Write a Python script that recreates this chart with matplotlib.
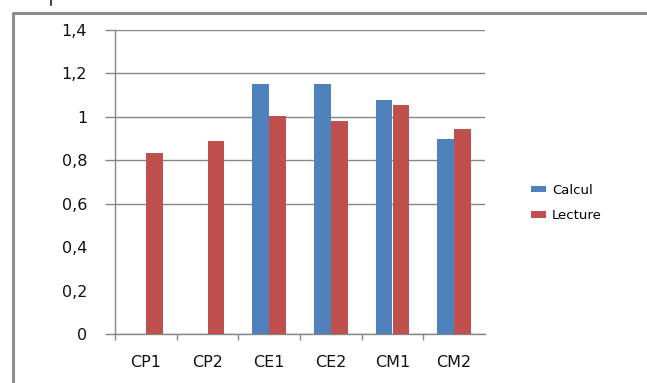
import numpy as np
import matplotlib
matplotlib.use('Agg')
import matplotlib.pyplot as plt
from matplotlib.lines import Line2D

categories = ['CP1', 'CP2', 'CE1', 'CE2', 'CM1', 'CM2']
calcul = [0, 0, 1.15, 1.15, 1.076, 0.90]
lecture = [0.835, 0.89, 1.002, 0.979, 1.053, 0.942]
y_ticks = [0, 0.2, 0.4, 0.6, 0.8, 1.0, 1.2, 1.4]
y_labels = ['0', '0,2', '0,4', '0,6', '0,8', '1', '1,2', '1,4']
grid_vals = [0, 0.6, 0.8, 1.0, 1.2, 1.4]

blue = '#4F81BD'
red = '#C0504D'
grey = '#868686'

fig = plt.figure(figsize=(6.47, 3.83), dpi=100)
ax = fig.add_axes([115 / 647, 1 - 334 / 383, 370 / 647, 304 / 383])

x = np.arange(len(categories))
w = 0.275
ax.bar(x - w / 2, calcul, w, color=blue, label='Calcul', zorder=3)
ax.bar(x + w / 2, lecture, w, color=red, label='Lecture', zorder=3)

ax.set_xlim(-0.5, 5.5)
ax.set_ylim(0, 1.4)

for s in ['top', 'right']:
    ax.spines[s].set_visible(False)
for s in ['left', 'bottom']:
    ax.spines[s].set_color(grey)
    ax.spines[s].set_linewidth(1.0)

# labels (major, no tick mark)
ax.set_yticks(y_ticks)
ax.set_yticklabels(y_labels)
ax.set_xticks(x)
ax.set_xticklabels(categories)
ax.tick_params(axis='y', which='major', length=0, pad=20, labelsize=11.5, labelcolor='#111111')
ax.tick_params(axis='x', which='major', length=0, pad=15, labelsize=11.5, labelcolor='#111111')

# tick marks (minor)
ax.yaxis.remove_overlapping_locs = False
ax.xaxis.remove_overlapping_locs = False
ax.set_yticks(grid_vals, minor=True)
ax.set_xticks(np.arange(-0.5, 5.0, 1.0), minor=True)
ax.tick_params(axis='y', which='minor', length=7, width=1.0, color=grey)
ax.tick_params(axis='x', which='minor', length=4, width=1.0, color=grey)
ax.grid(axis='y', which='minor', color=grey, linewidth=1.0)
ax.set_axisbelow(True)

leg = ax.legend(loc='center left', bbox_to_anchor=(531 / 647, 1 - 203 / 383),
                bbox_transform=fig.transFigure, frameon=False, fontsize=9.5,
                handlelength=1.15, handleheight=0.4, handletextpad=0.45,
                labelspacing=0.95, borderpad=0, borderaxespad=0)

# outer frame
fig.add_artist(Line2D([13 / 647, 13 / 647, 1.0], [0, 1 - 13 / 383, 1 - 13 / 383],
                      transform=fig.transFigure, color='#8c8c8c', linewidth=2.2))
fig.add_artist(Line2D([51 / 647, 51 / 647], [1.0, 1 - 5 / 383],
                      transform=fig.transFigure, color='#222222', linewidth=1.2))

fig.savefig('out.png', dpi=100)
